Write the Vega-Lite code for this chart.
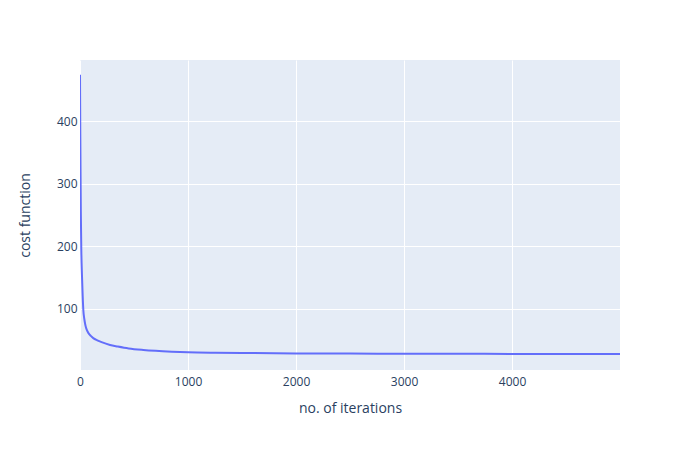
{
  "$schema": "https://vega.github.io/schema/vega-lite/v6.json",
  "width": 540,
  "height": 310,
  "autosize": {"type": "none"},
  "padding": {"left": 80, "top": 60, "right": 80, "bottom": 80},
  "background": "white",
  "config": {
    "view": {"fill": "#E5ECF6", "stroke": null},
    "font": "Open Sans",
    "axis": {
      "domain": false,
      "ticks": false,
      "gridColor": "white",
      "gridWidth": 1,
      "labelFont": "Open Sans",
      "labelFontSize": 12,
      "labelColor": "#2a3f5f",
      "labelFlush": false,
      "labelOverlap": false,
      "titleFont": "Open Sans",
      "titleFontSize": 14,
      "titleFontWeight": "normal",
      "titleColor": "#2a3f5f"
    }
  },
  "data": {
    "values": [
      {"iter": 0, "cost": 474},
      {"iter": 1, "cost": 440},
      {"iter": 2, "cost": 405},
      {"iter": 3, "cost": 375},
      {"iter": 5, "cost": 320},
      {"iter": 8, "cost": 250},
      {"iter": 12, "cost": 195},
      {"iter": 18, "cost": 155},
      {"iter": 25, "cost": 120},
      {"iter": 31, "cost": 98},
      {"iter": 40, "cost": 84},
      {"iter": 50, "cost": 74},
      {"iter": 62, "cost": 67},
      {"iter": 80, "cost": 61},
      {"iter": 100, "cost": 57},
      {"iter": 123, "cost": 53.5},
      {"iter": 160, "cost": 50},
      {"iter": 200, "cost": 47},
      {"iter": 278, "cost": 42.5},
      {"iter": 350, "cost": 40},
      {"iter": 450, "cost": 37},
      {"iter": 586, "cost": 34.6},
      {"iter": 700, "cost": 33.2},
      {"iter": 850, "cost": 31.9},
      {"iter": 1000, "cost": 31},
      {"iter": 1250, "cost": 30.2},
      {"iter": 1500, "cost": 29.7},
      {"iter": 2000, "cost": 29.1},
      {"iter": 2500, "cost": 28.8},
      {"iter": 3000, "cost": 28.6},
      {"iter": 3500, "cost": 28.4},
      {"iter": 4000, "cost": 28.3},
      {"iter": 4500, "cost": 28.2},
      {"iter": 4999, "cost": 28.1}
    ]
  },
  "mark": {"type": "line", "color": "#636EFA", "strokeWidth": 2, "interpolate": "monotone", "clip": true},
  "encoding": {
    "x": {
      "field": "iter",
      "type": "quantitative",
      "scale": {"domain": [0, 4999], "nice": false, "zero": false},
      "axis": {
        "title": "no. of iterations",
        "values": [0, 1000, 2000, 3000, 4000],
        "format": "d",
        "labelPadding": 6,
        "titleX": 270,
        "titleY": 38,
        "titleAlign": "center",
        "titleBaseline": "middle"
      }
    },
    "y": {
      "field": "cost",
      "type": "quantitative",
      "scale": {"domain": [2.6, 497.4], "nice": false, "zero": false},
      "axis": {
        "title": "cost function",
        "values": [100, 200, 300, 400],
        "format": "d",
        "labelPadding": 3,
        "titleX": -55,
        "titleY": 155,
        "titleAngle": 270,
        "titleAlign": "center",
        "titleBaseline": "middle"
      }
    }
  }
}
